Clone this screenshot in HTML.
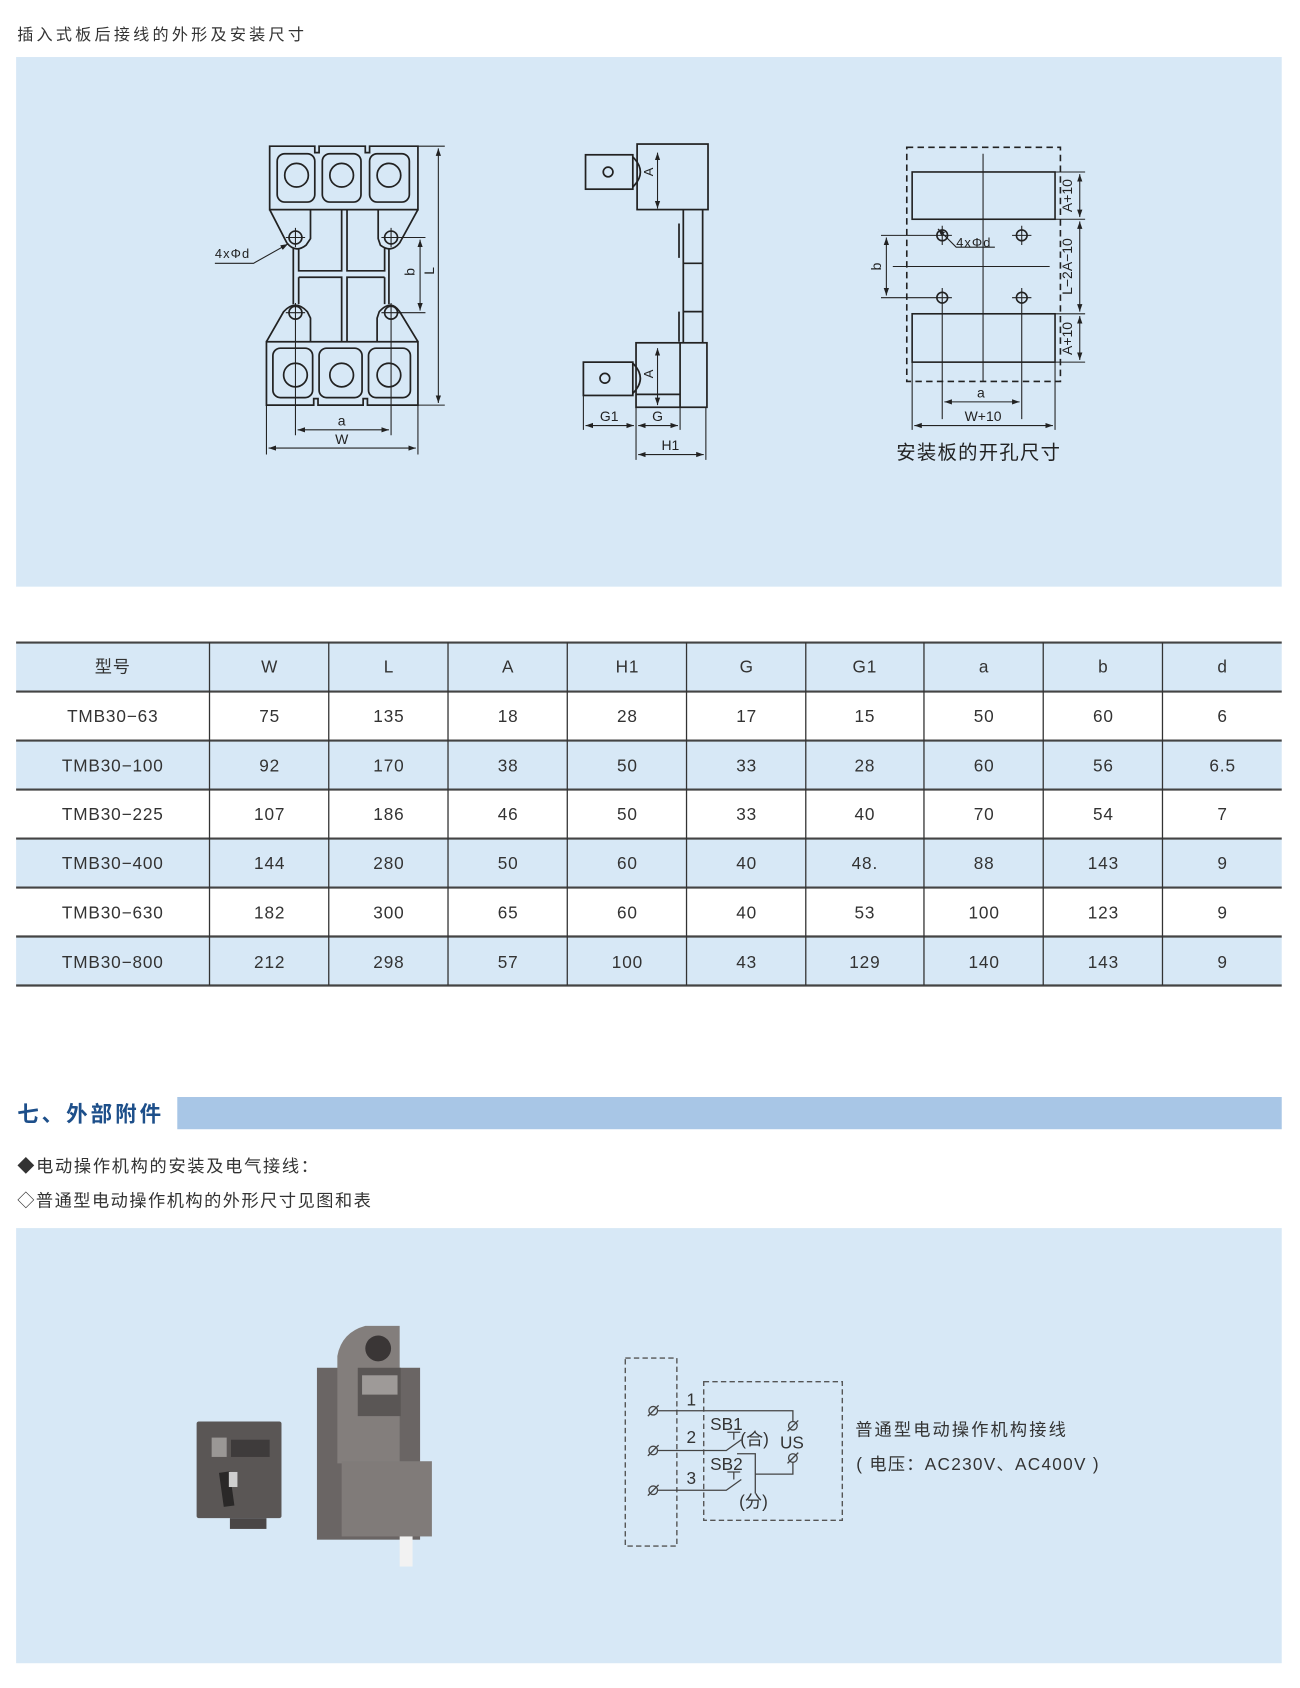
<!DOCTYPE html>
<html><head><meta charset="utf-8"><style>
html,body{margin:0;padding:0;background:#fff;}
svg{display:block;}
text{font-family:"Liberation Sans","Noto Sans CJK SC",sans-serif;}
</style></head><body>
<svg width="1300" height="1688" viewBox="0 0 1210 1571" xmlns="http://www.w3.org/2000/svg">
<defs>
<marker id="ar" viewBox="0 0 10 10" refX="10" refY="5" markerWidth="7" markerHeight="7" orient="auto-start-reverse"><path d="M0,1.5 L10,5 L0,8.5 z" fill="#222"/></marker>
</defs>
<rect width="1210" height="1571" fill="#fff"/>
<text x="16" y="37" font-size="15" fill="#333" letter-spacing="3">插入式板后接线的外形及安装尺寸</text>
<rect x="15" y="53" width="1178" height="493" fill="#d7e8f6"/>

<!-- Front view -->
<g fill="none" stroke="#222" stroke-width="1.6">
<path d="M251,136 H293 V142 H297 V136 H340 V142 H344 V136 H389 V195 H251 Z"/>
<rect x="258" y="143" width="35" height="45" rx="7"/>
<rect x="300" y="143" width="36" height="45" rx="7"/>
<rect x="344" y="143" width="37" height="45" rx="7"/>
<circle cx="276" cy="163" r="11"/><circle cx="318" cy="163" r="11"/><circle cx="362" cy="163" r="11"/>
<path d="M251,195 L267,226 Q275,236 285,228 L289,222 V195"/>
<path d="M389,195 L372,226 Q364,236 354,228 L352,222 V195"/>
<path d="M273,231 V258 M278,231 V252 H318 V195 M323,195 V252 H358 V231 M362,231 V258 M278,258 H318 V318 M323,318 V258 H358 M278,258 V283 M273,258 V283 M358,258 V283 M362,258 V283"/>
<path d="M248,318 L264,290 Q275,278 286,290 L289,296 V318"/>
<path d="M389,318 L372,290 Q364,278 353,290 L351,296 V318"/>
<path d="M248,318 H389 V377 H342 V371 H338 V377 H296 V371 H292 V377 H248 Z"/>
<rect x="254" y="324" width="37" height="46" rx="7"/>
<rect x="297" y="324" width="40" height="46" rx="7"/>
<rect x="343" y="324" width="39" height="46" rx="7"/>
<circle cx="275" cy="349" r="11"/><circle cx="318" cy="349" r="11"/><circle cx="362" cy="349" r="11"/>
<circle cx="275" cy="221" r="6"/><circle cx="364" cy="221" r="6"/><circle cx="275" cy="291" r="6"/><circle cx="364" cy="291" r="6"/>
</g>
<g stroke="#222" stroke-width="1" fill="none">
<path d="M275,212 V230 M266,221 H284 M364,212 V230 M355,221 H373 M275,282 V405 M266,291 H284 M364,282 V405 M355,291 H373"/>
<path d="M389,136 H414 M389,377 H414 M370,221 H396 M370,291 H396 M248,377 V423 M389,377 V423"/>
<line x1="408" y1="138" x2="408" y2="375" marker-start="url(#ar)" marker-end="url(#ar)"/>
<line x1="391" y1="223" x2="391" y2="289" marker-start="url(#ar)" marker-end="url(#ar)"/>
<line x1="277" y1="400" x2="362" y2="400" marker-start="url(#ar)" marker-end="url(#ar)"/>
<line x1="250" y1="417" x2="387" y2="417" marker-start="url(#ar)" marker-end="url(#ar)"/>
<path d="M200,245 H236 L268,227" marker-end="url(#ar)"/>
</g>
<text x="200" y="240" font-size="12" fill="#222" letter-spacing="1">4xΦd</text>
<text x="318" y="396" font-size="13" fill="#222" text-anchor="middle">a</text>
<text x="318" y="413" font-size="13" fill="#222" text-anchor="middle">W</text>
<text transform="translate(404,252) rotate(-90)" font-size="13" fill="#222" text-anchor="middle">L</text>
<text transform="translate(386,253) rotate(-90)" font-size="13" fill="#222" text-anchor="middle">b</text>

<!-- Side view -->
<g fill="none" stroke="#222" stroke-width="1.6">
<rect x="593" y="134" width="66" height="61"/>
<rect x="545" y="144" width="44" height="32"/>
<path d="M589,146 Q603,160 589,174"/>
<circle cx="566" cy="160" r="4.5"/>
<path d="M636,195 V319 M654,195 V319 M636,245 H654 M636,290 H654 M632,208 V240 M632,290 V318"/>
<rect x="592" y="319" width="66" height="60"/>
<path d="M633,319 V379 M592,367 H633"/>
<rect x="543" y="337" width="46" height="31"/>
<path d="M589,338 Q603,352 589,366"/>
<circle cx="563" cy="352" r="4.5"/>
</g>
<g stroke="#222" stroke-width="1" fill="none">
<line x1="612" y1="142" x2="612" y2="194" marker-start="url(#ar)" marker-end="url(#ar)"/>
<line x1="612" y1="324" x2="612" y2="377" marker-start="url(#ar)" marker-end="url(#ar)"/>
<path d="M543,368 V400 M592,379 V428 M633,379 V400 M657,379 V428"/>
<line x1="545" y1="396" x2="590" y2="396" marker-start="url(#ar)" marker-end="url(#ar)"/>
<line x1="594" y1="396" x2="631" y2="396" marker-start="url(#ar)" marker-end="url(#ar)"/>
<line x1="594" y1="423" x2="655" y2="423" marker-start="url(#ar)" marker-end="url(#ar)"/>
</g>
<text transform="translate(608,160) rotate(-90)" font-size="12" fill="#222" text-anchor="middle">A</text>
<text transform="translate(608,348) rotate(-90)" font-size="12" fill="#222" text-anchor="middle">A</text>
<text x="567" y="392" font-size="13" fill="#222" text-anchor="middle">G1</text>
<text x="612" y="392" font-size="13" fill="#222" text-anchor="middle">G</text>
<text x="624" y="419" font-size="13" fill="#222" text-anchor="middle">H1</text>

<!-- Cutout -->
<g fill="none" stroke="#222" stroke-width="1.5">
<rect x="844" y="137" width="143" height="218" stroke-dasharray="6,4"/>
<rect x="849" y="160" width="133" height="44"/>
<rect x="849" y="292" width="133" height="45"/>
<circle cx="877" cy="219" r="5"/><circle cx="951" cy="219" r="5"/><circle cx="877" cy="277" r="5"/><circle cx="951" cy="277" r="5"/>
</g>
<g stroke="#222" stroke-width="1" fill="none">
<path d="M915,143 V355 M831,248 H977 M868,219 H886 M877,210 V228 M942,219 H960 M951,210 V228 M868,277 H886 M877,268 V390 M942,277 H960 M951,268 V390 M820,219 H872 M820,277 H872 M849,337 V400 M982,337 V400 M982,160 H1010 M982,204 H1010 M982,292 H1010 M982,337 H1010"/>
<line x1="1005" y1="162" x2="1005" y2="202" marker-start="url(#ar)" marker-end="url(#ar)"/>
<line x1="1005" y1="206" x2="1005" y2="290" marker-start="url(#ar)" marker-end="url(#ar)"/>
<line x1="1005" y1="294" x2="1005" y2="335" marker-start="url(#ar)" marker-end="url(#ar)"/>
<line x1="825" y1="221" x2="825" y2="275" marker-start="url(#ar)" marker-end="url(#ar)"/>
<line x1="879" y1="374" x2="949" y2="374" marker-start="url(#ar)" marker-end="url(#ar)"/>
<line x1="851" y1="396" x2="980" y2="396" marker-start="url(#ar)" marker-end="url(#ar)"/>
<path d="M926,230 H890 L873,213" marker-end="url(#ar)"/>
</g>
<text x="890" y="230" font-size="12" fill="#222" letter-spacing="1">4xΦd</text>
<text transform="translate(998,182) rotate(-90)" font-size="13" fill="#222" text-anchor="middle">A+10</text>
<text transform="translate(998,248) rotate(-90)" font-size="13" fill="#222" text-anchor="middle">L−2A−10</text>
<text transform="translate(998,315) rotate(-90)" font-size="13" fill="#222" text-anchor="middle">A+10</text>
<text transform="translate(820,248) rotate(-90)" font-size="13" fill="#222" text-anchor="middle">b</text>
<text x="913" y="370" font-size="13" fill="#222" text-anchor="middle">a</text>
<text x="915" y="392" font-size="13" fill="#222" text-anchor="middle">W+10</text>
<text x="911" y="427" font-size="18" fill="#222" text-anchor="middle" letter-spacing="1.2">安装板的开孔尺寸</text>

<!-- Table -->
<g>
<rect x="15" y="598" width="1178" height="45.6" fill="#d7e8f6"/>
<rect x="15" y="689.2" width="1178" height="45.6" fill="#d7e8f6"/>
<rect x="15" y="780.4" width="1178" height="45.6" fill="#d7e8f6"/>
<rect x="15" y="871.6" width="1178" height="45.6" fill="#d7e8f6"/>
<g stroke="#444" stroke-width="2">
<line x1="15" y1="598" x2="1193" y2="598"/><line x1="15" y1="643.6" x2="1193" y2="643.6"/>
<line x1="15" y1="689.2" x2="1193" y2="689.2"/><line x1="15" y1="734.8" x2="1193" y2="734.8"/>
<line x1="15" y1="780.4" x2="1193" y2="780.4"/><line x1="15" y1="826" x2="1193" y2="826"/>
<line x1="15" y1="871.6" x2="1193" y2="871.6"/><line x1="15" y1="917.2" x2="1193" y2="917.2"/>
</g>
<g stroke="#333" stroke-width="1.2">
<line x1="195" y1="598" x2="195" y2="917"/><line x1="306" y1="598" x2="306" y2="917"/>
<line x1="417" y1="598" x2="417" y2="917"/><line x1="528" y1="598" x2="528" y2="917"/>
<line x1="639" y1="598" x2="639" y2="917"/><line x1="750" y1="598" x2="750" y2="917"/>
<line x1="860" y1="598" x2="860" y2="917"/><line x1="971" y1="598" x2="971" y2="917"/>
<line x1="1082" y1="598" x2="1082" y2="917"/>
</g>
<g font-size="16" fill="#333" text-anchor="middle" letter-spacing="0.8">
<text x="105" y="626">型号</text><text x="251" y="626">W</text><text x="362" y="626">L</text><text x="473" y="626">A</text><text x="584" y="626">H1</text><text x="695" y="626">G</text><text x="805" y="626">G1</text><text x="916" y="626">a</text><text x="1027" y="626">b</text><text x="1138" y="626">d</text>
<text x="105" y="672">TMB30−63</text><text x="251" y="672">75</text><text x="362" y="672">135</text><text x="473" y="672">18</text><text x="584" y="672">28</text><text x="695" y="672">17</text><text x="805" y="672">15</text><text x="916" y="672">50</text><text x="1027" y="672">60</text><text x="1138" y="672">6</text>
<text x="105" y="718">TMB30−100</text><text x="251" y="718">92</text><text x="362" y="718">170</text><text x="473" y="718">38</text><text x="584" y="718">50</text><text x="695" y="718">33</text><text x="805" y="718">28</text><text x="916" y="718">60</text><text x="1027" y="718">56</text><text x="1138" y="718">6.5</text>
<text x="105" y="763">TMB30−225</text><text x="251" y="763">107</text><text x="362" y="763">186</text><text x="473" y="763">46</text><text x="584" y="763">50</text><text x="695" y="763">33</text><text x="805" y="763">40</text><text x="916" y="763">70</text><text x="1027" y="763">54</text><text x="1138" y="763">7</text>
<text x="105" y="809">TMB30−400</text><text x="251" y="809">144</text><text x="362" y="809">280</text><text x="473" y="809">50</text><text x="584" y="809">60</text><text x="695" y="809">40</text><text x="805" y="809">48.</text><text x="916" y="809">88</text><text x="1027" y="809">143</text><text x="1138" y="809">9</text>
<text x="105" y="855">TMB30−630</text><text x="251" y="855">182</text><text x="362" y="855">300</text><text x="473" y="855">65</text><text x="584" y="855">60</text><text x="695" y="855">40</text><text x="805" y="855">53</text><text x="916" y="855">100</text><text x="1027" y="855">123</text><text x="1138" y="855">9</text>
<text x="105" y="901">TMB30−800</text><text x="251" y="901">212</text><text x="362" y="901">298</text><text x="473" y="901">57</text><text x="584" y="901">100</text><text x="695" y="901">43</text><text x="805" y="901">129</text><text x="916" y="901">140</text><text x="1027" y="901">143</text><text x="1138" y="901">9</text>
</g>
</g>

<!-- Section header -->
<text x="16" y="1044" font-size="20" font-weight="bold" fill="#1d4f8a" letter-spacing="2.8">七、外部附件</text>
<rect x="165" y="1021" width="1028" height="30" fill="#a8c6e6"/>
<text x="16" y="1091" font-size="16" fill="#333" letter-spacing="1.6">◆电动操作机构的安装及电气接线：</text>
<text x="16" y="1123" font-size="16" fill="#333" letter-spacing="1.4">◇普通型电动操作机构的外形尺寸见图和表</text>

<rect x="15" y="1143" width="1178" height="405" fill="#d7e8f6"/>

<!-- Photos -->
<g>
<rect x="183" y="1323" width="79" height="90" fill="#5a5655" rx="2"/>
<rect x="197" y="1338" width="14" height="18" fill="#9a9795"/>
<rect x="215" y="1340" width="36" height="16" fill="#3e3b3b"/>
<rect x="206" y="1370" width="10" height="32" fill="#2a2828" transform="rotate(-8 211 1386)"/>
<rect x="213" y="1370" width="8" height="14" fill="#cfcfcf"/>
<rect x="214" y="1413" width="34" height="10" fill="#4a4646"/>
<rect x="295" y="1273" width="96" height="160" fill="#6a6564"/>
<path d="M314,1262 Q318,1240 340,1234 H372 V1362 H314 Z" fill="#837e7c"/>
<circle cx="352" cy="1255" r="12" fill="#3a3636"/>
<rect x="333" y="1273" width="40" height="45" fill="#5a5655"/>
<rect x="337" y="1280" width="33" height="18" fill="#9e9a98"/>
<rect x="318" y="1360" width="84" height="70" fill="#807b79"/>
<rect x="372" y="1430" width="12" height="28" fill="#f2f2f2"/>
</g>

<!-- Wiring -->
<g fill="none" stroke="#555" stroke-width="1.3" stroke-dasharray="5,3">
<rect x="582" y="1264" width="48" height="175"/>
<rect x="655" y="1286" width="129" height="129"/>
</g>
<g fill="none" stroke="#444" stroke-width="1.2">
<circle cx="608" cy="1313" r="4"/><circle cx="608" cy="1350" r="4"/><circle cx="608" cy="1387" r="4"/>
<circle cx="738" cy="1327" r="4"/><circle cx="738" cy="1357" r="4"/>
<path d="M603,1318 L613,1308 M603,1355 L613,1345 M603,1392 L613,1382 M733,1332 L743,1322 M733,1362 L743,1352"/>
<path d="M612,1313 H738 V1323 M612,1350 H676 L690,1340 M686,1353 H703 V1390 M612,1387 H676 L690,1377 M703,1372 H738 V1361"/>
<path d="M677,1333 H689 M683,1333 V1340 M677,1370 H689 M683,1370 V1377"/>
</g>
<g font-size="16" fill="#333">
<text x="639" y="1308">1</text><text x="639" y="1343">2</text><text x="639" y="1381">3</text>
<text x="661" y="1331">SB1</text><text x="689" y="1345">(合)</text><text x="726" y="1348">US</text>
<text x="661" y="1368">SB2</text><text x="688" y="1403">(分)</text>
</g>
<text x="796" y="1336" font-size="16" fill="#333" letter-spacing="2">普通型电动操作机构接线</text>
<text x="797" y="1368" font-size="16" fill="#333" letter-spacing="1.2">( 电压：AC230V、AC400V )</text>
</svg>
</body></html>
